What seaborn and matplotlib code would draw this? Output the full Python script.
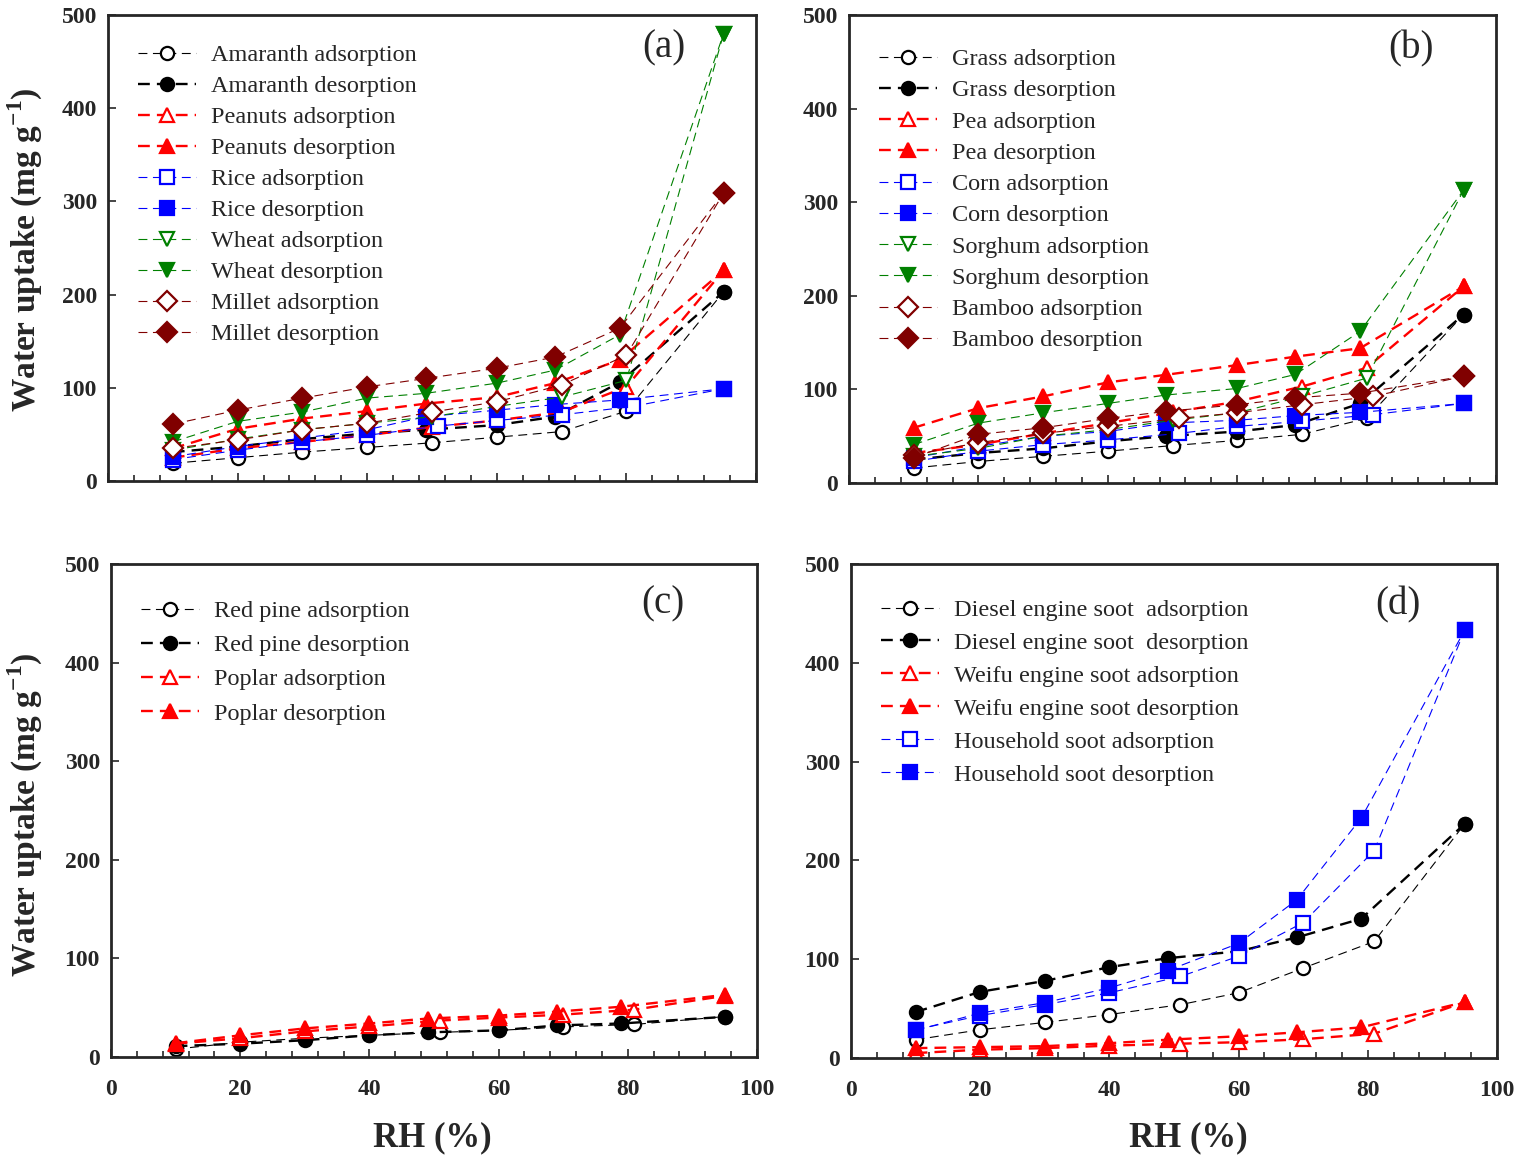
import matplotlib
matplotlib.use("Agg")
import matplotlib.pyplot as plt
from matplotlib.ticker import MultipleLocator
import seaborn as sns

# RH positions (some desorption points sit slightly left of the nominal RH)
rh = [10, 20, 30, 40, 50, 60, 70, 80, 95]
rh_des = [10, 20, 30, 40, 49, 60, 69, 79, 95]
rh_ads = [10, 20, 30, 40, 51, 60, 70, 81, 95]

# (a)
amaranth_ads = [19, 25, 31, 36, 41, 47, 53, 75, 203]
amaranth_des = [31, 37, 45, 51, 55, 60, 69, 106, 203]
peanuts_ads = [25, 35, 42, 49, 58, 65, 74, 101, 226]
peanuts_des = [35, 56, 67, 75, 83, 90, 105, 130, 226]
rice_ads = [23, 33, 42, 49, 59, 65, 71, 80, 99]
rice_des = [26, 37, 46, 55, 69, 76, 82, 87, 99]
wheat_ads = [33, 45, 55, 62, 69, 80, 90, 108, 480]
wheat_des = [42, 64, 74, 89, 94, 105, 119, 157, 480]
millet_ads = [35, 44, 55, 62, 74, 85, 103, 135, 309]
millet_des = [61, 76, 89, 101, 110, 121, 133, 164, 309]

# (b)
grass_ads = [16, 23, 28.5, 34, 40, 45.5, 52, 69, 180]
grass_des = [25, 32, 37, 44.5, 50, 55, 62, 85, 180]
pea_ads = [32, 41, 53, 64, 75.5, 87, 103, 123, 210]
pea_des = [59, 80, 92.5, 107.5, 115.6, 126, 135, 144, 210]
corn_ads = [23, 34, 41, 46, 53, 60.5, 66, 73, 85]
corn_des = [27, 39, 50, 55, 64, 67, 72, 75.5, 85]
sorghum_ads = [28.5, 37, 50, 57, 67, 75, 92.5, 112, 313]
sorghum_des = [41, 64, 75, 85, 94, 101, 116, 162, 313]
bamboo_ads = [30, 43, 53, 60.5, 69, 75, 83.6, 92.5, 114]
bamboo_des = [27, 52, 59, 69, 76.5, 83.6, 91, 96, 114]

# (c)
redpine_ads = [8, 15, 19, 22, 25, 27, 30.5, 33, 41]
redpine_des = [11, 13.5, 17, 22, 25, 27, 32, 34, 40.7]
poplar_ads = [13.5, 19, 26, 31, 37, 40, 43, 48, 62]
poplar_des = [14, 22, 29, 34, 39, 42, 46, 51, 63]

# (d)
diesel_ads = [18.5, 28.6, 36, 44, 54, 66, 91, 118, 237]
diesel_des = [46.5, 67, 78, 92, 101, 108, 122, 141, 237]
weifu_ads = [5, 8.4, 10, 12.5, 14.5, 16, 19, 24.6, 56.6]
weifu_des = [10, 11, 12, 15, 18.5, 22, 26, 31, 56.6]
household_ads = [28.6, 43, 54, 66, 82.5, 103, 137, 210, 433]
household_des = [28, 45.5, 56, 71, 88.5, 116, 160, 243, 433]

sns.set_theme(style="ticks")
plt.rcParams["font.family"] = ["Liberation Serif", "DejaVu Serif"]
plt.rcParams["mathtext.fontset"] = "custom"
plt.rcParams["mathtext.rm"] = "Liberation Serif"
plt.rcParams["mathtext.bf"] = "Liberation Serif:bold"

BLK, RED, BLU, GRN, MAR = "black", "#ff0000", "#0000ff", "#008000", "#800000"

# label, x, y, color, marker, filled, thick
panels = {
    "a": [
        ("Amaranth adsorption", rh, amaranth_ads, BLK, "o", False, False),
        ("Amaranth desorption", rh_des, amaranth_des, BLK, "o", True, True),
        ("Peanuts adsorption", rh, peanuts_ads, RED, "^", False, True),
        ("Peanuts desorption", rh_des, peanuts_des, RED, "^", True, True),
        ("Rice adsorption", rh_ads, rice_ads, BLU, "s", False, False),
        ("Rice desorption", rh_des, rice_des, BLU, "s", True, False),
        ("Wheat adsorption", rh, wheat_ads, GRN, "v", False, False),
        ("Wheat desorption", rh_des, wheat_des, GRN, "v", True, False),
        ("Millet adsorption", rh, millet_ads, MAR, "D", False, False),
        ("Millet desorption", rh_des, millet_des, MAR, "D", True, False),
    ],
    "b": [
        ("Grass adsorption", rh, grass_ads, BLK, "o", False, False),
        ("Grass desorption", rh_des, grass_des, BLK, "o", True, True),
        ("Pea adsorption", rh, pea_ads, RED, "^", False, True),
        ("Pea desorption", rh_des, pea_des, RED, "^", True, True),
        ("Corn adsorption", rh_ads, corn_ads, BLU, "s", False, False),
        ("Corn desorption", rh_des, corn_des, BLU, "s", True, False),
        ("Sorghum adsorption", rh, sorghum_ads, GRN, "v", False, False),
        ("Sorghum desorption", rh_des, sorghum_des, GRN, "v", True, False),
        ("Bamboo adsorption", rh_ads, bamboo_ads, MAR, "D", False, False),
        ("Bamboo desorption", rh_des, bamboo_des, MAR, "D", True, False),
    ],
    "c": [
        ("Red pine adsorption", rh_ads, redpine_ads, BLK, "o", False, False),
        ("Red pine desorption", rh_des, redpine_des, BLK, "o", True, True),
        ("Poplar adsorption", rh_ads, poplar_ads, RED, "^", False, True),
        ("Poplar desorption", rh_des, poplar_des, RED, "^", True, True),
    ],
    "d": [
        ("Diesel engine soot  adsorption", rh_ads, diesel_ads, BLK, "o", False, False),
        ("Diesel engine soot  desorption", rh_des, diesel_des, BLK, "o", True, True),
        ("Weifu engine soot adsorption", rh_ads, weifu_ads, RED, "^", False, True),
        ("Weifu engine soot desorption", rh_des, weifu_des, RED, "^", True, True),
        ("Household soot adsorption", rh_ads, household_ads, BLU, "s", False, False),
        ("Household soot desorption", rh_des, household_des, BLU, "s", True, False),
    ],
}

W, H = 1520, 1160
# pixel boxes: left, right, top, bottom
boxes = {
    "a": (108, 756, 15, 481),
    "b": (849, 1496, 15, 483),
    "c": (111, 757, 564, 1057),
    "d": (851, 1497, 564, 1058),
}
label_pos = {"a": (0.858, 0.93), "b": (0.868, 0.927), "c": (0.855, 0.919), "d": (0.847, 0.917)}
leg_spacing = {"a": 0.37, "b": 0.38, "c": 0.5, "d": 0.45}
leg_top = {"a": 29, "b": 33, "c": 36, "d": 35}

fig = plt.figure(figsize=(W / 100, H / 100), dpi=100)

for key, series in panels.items():
    l, r, t, b = boxes[key]
    ax = fig.add_axes([l / W, 1 - b / H, (r - l) / W, (b - t) / H])
    for label, x, y, c, m, filled, thick in series:
        lw = 1.7 if thick else 0.8
        dash = (5, 3) if thick else (8, 5)
        ms = 10 if m in ("^", "v", "D") else 9.5
        sns.lineplot(x=x, y=y, ax=ax, color=c, marker=m, markersize=ms,
                     markerfacecolor=c if filled else "white",
                     markeredgecolor=c, markeredgewidth=1.6,
                     linewidth=lw, linestyle=(0, dash), label=label,
                     sort=False, errorbar=None)

    ax.set_xlim(0, 100)
    ax.set_ylim(0, 500)
    ax.xaxis.set_major_locator(MultipleLocator(20))
    ax.xaxis.set_minor_locator(MultipleLocator(4))
    ax.yaxis.set_major_locator(MultipleLocator(100))
    ax.tick_params(which="both", direction="in", top=False, right=False, width=1.2)
    ax.tick_params(which="major", length=6, labelsize=17)
    ax.tick_params(which="minor", length=4)
    ax.tick_params(axis="x", pad=16)
    ax.tick_params(axis="y", pad=8)
    if key in ("a", "b"):
        ax.tick_params(axis="x", labelbottom=False)
    plt.setp(ax.get_xticklabels() + ax.get_yticklabels(), fontweight="bold")
    for sp in ax.spines.values():
        sp.set_linewidth(2.0)
    ax.set_xlabel("")
    ax.set_ylabel("")
    ax.grid(False)

    top_y = (b - (t + leg_top[key])) / (b - t)
    ax.legend(loc="upper left", bbox_to_anchor=(30 / (r - l), top_y), frameon=False,
              borderpad=0, borderaxespad=0, prop={"size": 17.5},
              handlelength=2.4, handletextpad=0.6, labelspacing=leg_spacing[key])

    ax.text(*label_pos[key], f"({key})", transform=ax.transAxes,
            ha="center", va="center", fontsize=28)

ylab = "Water uptake (mg g$^{\\mathbf{-1}}$)"
fig.text(25 / W, 1 - 250 / H, ylab, rotation=90, ha="center", va="center",
         fontsize=24, fontweight="bold")
fig.text(25 / W, 1 - 815 / H, ylab, rotation=90, ha="center", va="center",
         fontsize=24, fontweight="bold")
fig.text(432 / W, 1 - 1138 / H, "RH (%)", ha="center", va="center",
         fontsize=25, fontweight="bold")
fig.text(1188 / W, 1 - 1138 / H, "RH (%)", ha="center", va="center",
         fontsize=25, fontweight="bold")

fig.savefig("out.png", dpi=100)
